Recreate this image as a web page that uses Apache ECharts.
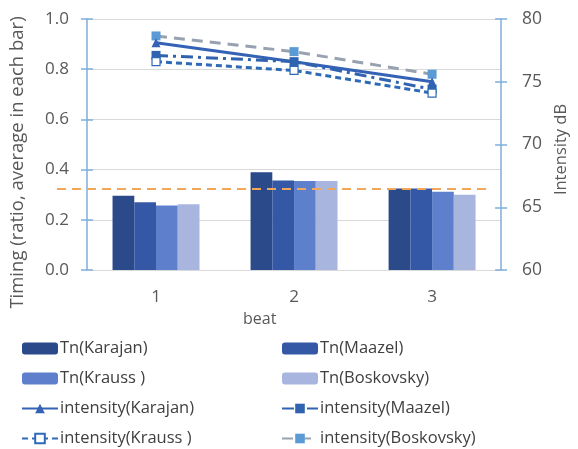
<!DOCTYPE html>
<html><head><meta charset="utf-8">
<script src="https://cdn.jsdelivr.net/npm/echarts@6/dist/echarts.min.js"></script>
<style>html,body{margin:0;padding:0;background:#fff}#c{width:578px;height:449px}</style>
</head><body><div id="c"></div>
<script>
const categories = ['1','2','3'];
const tnKarajan = [0.296, 0.389, 0.325];
const tnMaazel = [0.270, 0.357, 0.325];
const tnKrauss = [0.257, 0.355, 0.312];
const tnBoskovsky = [0.262, 0.355, 0.300];
const intKarajan = [78.1, 76.6, 75.0];
const intMaazel = [77.1, 76.6, 74.4];
const intKrauss = [76.6, 75.9, 74.1];
const intBoskovsky = [78.65, 77.4, 75.6];
const refLine = [[0, 0.323], [1, 0.323]];
const leftTicks = {min: 0, max: 1, interval: 0.2};
const rightTicks = {min: 60, max: 80, interval: 5};

const font = 'Open Sans';
const txt = '#595959';
const axisBlue = '#7FAEDB';
const chart = echarts.init(document.getElementById('c'));
const grid = {left: 84, right: 68, top: 19, bottom: 179};
chart.setOption({
  animation: false,
  textStyle: {fontFamily: font},
  grid: [grid, {left: 57, right: 87, top: 19, bottom: 179}],
  title: {text: 'beat', left: 238, top: 306, textStyle: {fontFamily: font, fontSize: 16, fontWeight: 'normal', color: txt}},
  xAxis: [
    {type: 'category', data: categories, gridIndex: 0,
     axisLine: {lineStyle: {color: '#D9D9D9'}}, axisTick: {show: false},
     axisLabel: {color: txt, fontSize: 17, margin: 19, fontFamily: font}},
    {type: 'value', gridIndex: 1, min: 0, max: 1, show: false}
  ],
  yAxis: [
    {type: 'value', gridIndex: 0, position: 'left', ...leftTicks,
     axisLine: {show: true, lineStyle: {color: axisBlue, width: 1.5}},
     axisTick: {show: true, length: 6, lineStyle: {color: axisBlue, width: 1.5}},
     splitLine: {lineStyle: {color: '#D9D9D9'}},
     axisLabel: {color: txt, fontSize: 17, margin: 18, fontFamily: font, formatter: v => v.toFixed(1)},
     name: 'Timing (ratio, average in each bar)', nameLocation: 'middle', nameGap: 60,
     nameTextStyle: {color: txt, fontSize: 18.5, fontFamily: font, padding: [0, 36, 0, 0]}},
    {type: 'value', gridIndex: 0, position: 'right', ...rightTicks,
     axisLine: {show: true, lineStyle: {color: axisBlue, width: 1.5}},
     axisTick: {show: true, length: 6, lineStyle: {color: axisBlue, width: 1.5}},
     splitLine: {show: false},
     axisLabel: {color: txt, fontSize: 17.5, margin: 21, fontFamily: font},
     name: 'Intensity dB', nameLocation: 'middle', nameGap: 48,
     nameTextStyle: {color: txt, fontSize: 16.5, fontFamily: font, padding: [0, 10, 0, 0]}},
    {type: 'value', gridIndex: 0, position: 'left', ...leftTicks,
     axisLine: {show: false}, axisLabel: {show: false}, splitLine: {show: false},
     axisTick: {show: true, inside: true, length: 6, lineStyle: {color: axisBlue, width: 1.5}}},
    {type: 'value', gridIndex: 0, position: 'right', ...rightTicks,
     axisLine: {show: false}, axisLabel: {show: false}, splitLine: {show: false},
     axisTick: {show: true, inside: true, length: 6, lineStyle: {color: axisBlue, width: 1.5}}},
    {type: 'value', gridIndex: 1, min: 0, max: 1, show: false}
  ],
  legend: [
    {orient: 'vertical', left: 16, top: 335, height: 114, itemGap: 13, itemWidth: 36, itemHeight: 12,
     textStyle: {color: '#404040', fontSize: 16.5, fontFamily: font, padding: [0,0,0,-3]},
     data: ['Tn(Karajan)', 'Tn(Krauss )', 'intensity(Karajan)', 'intensity(Krauss )']},
    {orient: 'vertical', left: 276, top: 335, height: 114, itemGap: 13, itemWidth: 36, itemHeight: 12,
     textStyle: {color: '#404040', fontSize: 16.5, fontFamily: font, padding: [0,0,0,-3]},
     data: ['Tn(Maazel)', 'Tn(Boskovsky)', 'intensity(Maazel)', 'intensity(Boskovsky)']}
  ],
  series: [
    {name: 'Tn(Karajan)', type: 'bar', data: tnKarajan, barGap: '0%', barCategoryGap: '37%', itemStyle: {color: '#2A4A89'}},
    {name: 'Tn(Maazel)', type: 'bar', data: tnMaazel, itemStyle: {color: '#3558A6'}},
    {name: 'Tn(Krauss )', type: 'bar', data: tnKrauss, itemStyle: {color: '#5E80CC'}},
    {name: 'Tn(Boskovsky)', type: 'bar', data: tnBoskovsky, itemStyle: {color: '#A7B5DF'}},
    {name: 'ref', type: 'line', xAxisIndex: 1, yAxisIndex: 4, data: refLine, symbol: 'none',
     lineStyle: {color: '#F2A65A', width: 2, type: [9, 6]}},
    {name: 'intensity(Boskovsky)', type: 'line', yAxisIndex: 1, data: intBoskovsky,
     symbol: 'rect', symbolSize: 9, itemStyle: {color: '#5B9BD5'},
     lineStyle: {color: '#97A1B0', width: 3, type: [11, 7]}},
    {name: 'intensity(Karajan)', type: 'line', yAxisIndex: 1, data: intKarajan,
     symbol: 'triangle', symbolSize: 9, itemStyle: {color: '#3462B5'},
     lineStyle: {color: '#3462B5', width: 3}},
    {name: 'intensity(Maazel)', type: 'line', yAxisIndex: 1, data: intMaazel,
     symbol: 'rect', symbolSize: 9, itemStyle: {color: '#2F63AF'},
     lineStyle: {color: '#2F63AF', width: 3, type: [12, 5, 3, 5]}},
    {name: 'intensity(Krauss )', type: 'line', yAxisIndex: 1, data: intKrauss,
     symbol: 'rect', symbolSize: 8, itemStyle: {color: '#ffffff', borderColor: '#2E6AB5', borderWidth: 1.2},
     lineStyle: {color: '#2E6AB5', width: 3, type: [6, 4]}}
  ]
});
</script></body></html>
